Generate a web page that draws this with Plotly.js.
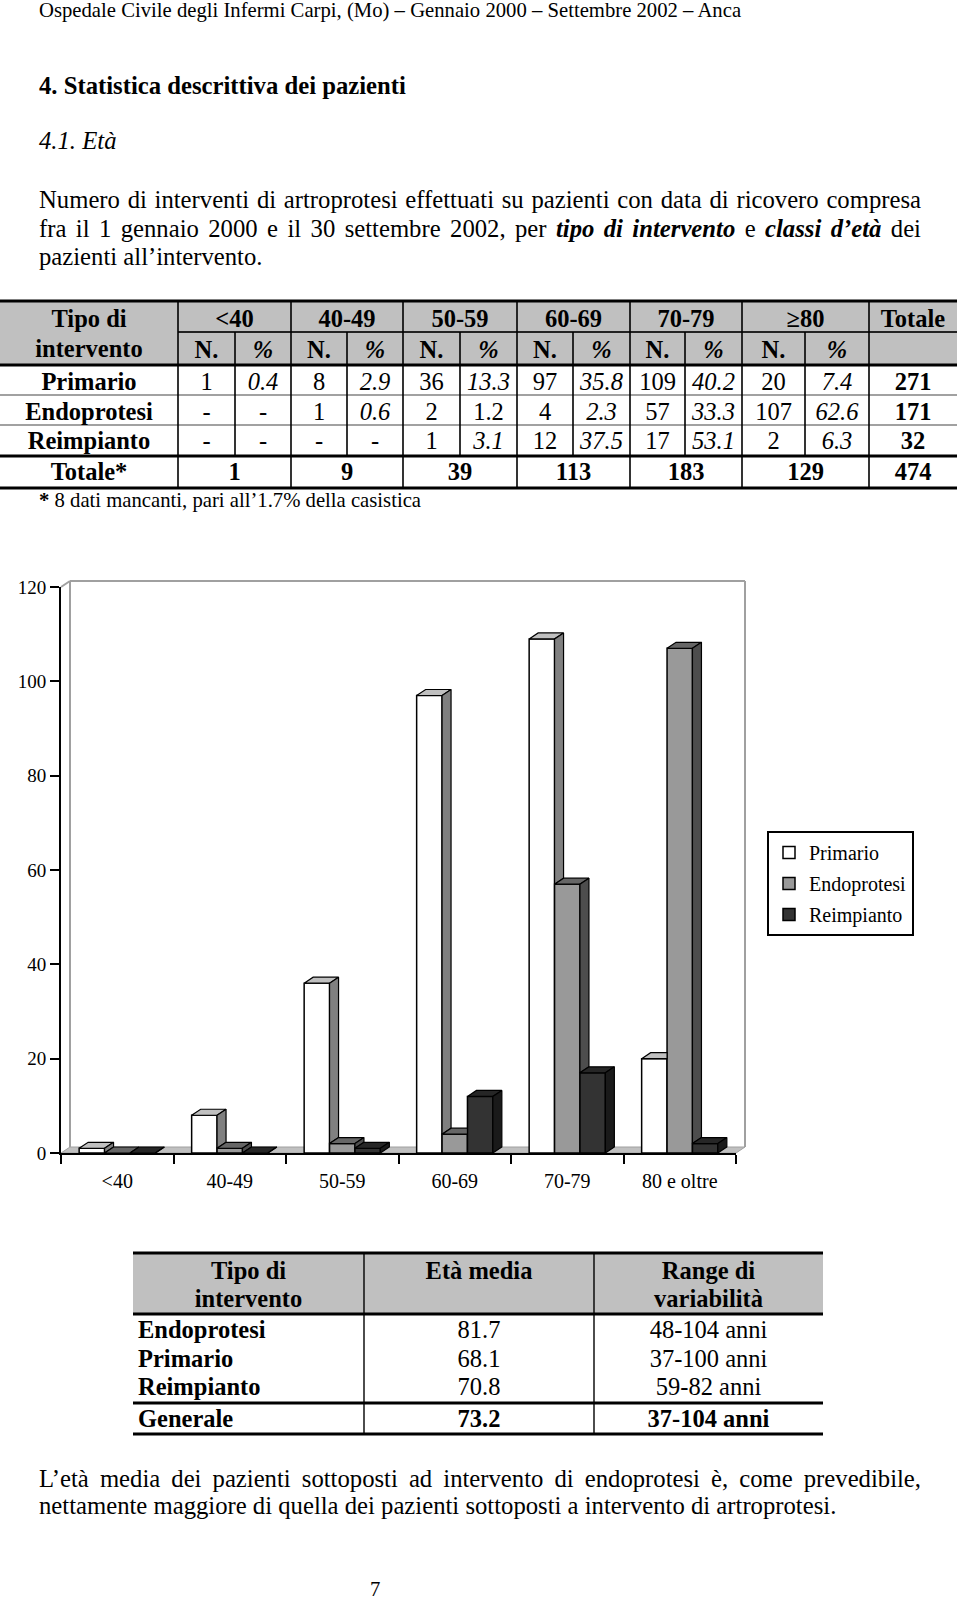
<!DOCTYPE html>
<html><head><meta charset="utf-8">
<script src="https://cdn.plot.ly/plotly-3.0.1.min.js"></script>
<style>
html,body{margin:0;padding:0;background:#fff;}
#page{position:relative;width:960px;height:1601px;overflow:hidden;background:#fff;}
#doc{position:absolute;left:0;top:0;}
#chart{position:absolute;left:0;top:560px;width:960px;height:660px;}
</style></head><body>
<div id="page"><svg id="doc" width="960" height="1601" xmlns="http://www.w3.org/2000/svg"></svg><div id="chart"></div></div>
<script>
// ---------------- DATA ----------------
const ageClasses = ['<40','40-49','50-59','60-69','70-79','≥80'];
const chartCategories = ['<40','40-49','50-59','60-69','70-79','80 e oltre'];
const tipiIntervento = ['Primario','Endoprotesi','Reimpianto'];
const primarioN = [1,8,36,97,109,20];
const primarioPct = [0.4,2.9,13.3,35.8,40.2,7.4];
const endoprotesiN = [null,1,2,4,57,107];
const endoprotesiPct = [null,0.6,1.2,2.3,33.3,62.6];
const reimpiantoN = [null,null,1,12,17,2];
const reimpiantoPct = [null,null,3.1,37.5,53.1,6.3];
const totaliTipo = [271,171,32];
const totaliClasse = [1,9,39,113,183,129];
const totaleGenerale = 474;
const yTicks = [0,20,40,60,80,100,120];
const tipiEta = ['Endoprotesi','Primario','Reimpianto'];
const etaMedia = [81.7,68.1,70.8];
const rangeEta = ['48-104 anni','37-100 anni','59-82 anni'];
const etaMediaGenerale = 73.2;
const rangeGenerale = '37-104 anni';

// ---------------- DOCUMENT (SVG text + tables) ----------------
const NS = 'http://www.w3.org/2000/svg';
const svg = document.getElementById('doc');
const FONT = 'Liberation Serif, Times New Roman, serif';
function el(tag, attrs, parent){
  const e = document.createElementNS(NS, tag);
  for (const k in attrs) e.setAttribute(k, attrs[k]);
  (parent || svg).appendChild(e);
  return e;
}
// parts: array of [string, style] where style may contain 'b' and/or 'i'
function txt(x, y, parts, o){
  o = o || {};
  if (typeof parts === 'string') parts = [[parts, o.style || '']];
  const t = el('text', {x:x, y:y, 'font-family':FONT, 'font-size':o.fs || 24.7,
    'text-anchor':o.anchor || 'start', fill:'#000'});
  parts.forEach(p => {
    const s = el('tspan', {}, t);
    if (p[1].indexOf('b') >= 0) s.setAttribute('font-weight','bold');
    if (p[1].indexOf('i') >= 0) s.setAttribute('font-style','italic');
    s.textContent = p[0];
  });
  if (o.justify) {
    const n = t.getComputedTextLength();
    const spaces = (t.textContent.match(/ /g) || []).length;
    if (spaces) t.setAttribute('word-spacing', ((o.justify - n) / spaces).toFixed(3));
  }
  return t;
}
function line(x1,y1,x2,y2,w,c){ el('line',{x1:x1,y1:y1,x2:x2,y2:y2,stroke:c||'#000','stroke-width':w}); }

// header & text
txt(39, 16.7, 'Ospedale Civile degli Infermi Carpi, (Mo) – Gennaio 2000 – Settembre 2002 – Anca', {fs:20.7});
txt(39, 94.3, '4. Statistica descrittiva dei pazienti', {style:'b'});
txt(39, 149.3, '4.1. Età', {style:'i'});
txt(39, 208.3, 'Numero di interventi di artroprotesi effettuati su pazienti con data di ricovero compresa', {justify:882});
txt(39, 236.7, [['fra il 1 gennaio 2000 e il 30 settembre 2002, per ',''],['tipo di intervento','bi'],[' e ',''],['classi d’età','bi'],[' dei','']], {justify:882});
txt(39, 265, 'pazienti all’intervento.');

// ---- Table 1 ----
const T1 = {cols:[0,178,235,291,347,403,460,517,573,630,685,742,805,869,957],
  top:301, mid:332, head:365, seps:[395,425], tot:456, bottom:488};
const FS_T = 24.5;
el('rect',{x:T1.cols[0], y:T1.top, width:T1.cols[14]-T1.cols[0], height:T1.head-T1.top, fill:'#c0c0c0'});
T1.seps.forEach(y => line(0, y, 957, y, 1.2, '#444'));
line(178, T1.mid, 957, T1.mid, 2.2, '#222');
[1,3,5,7,9,11,13].forEach(i => line(T1.cols[i], T1.top, T1.cols[i], T1.bottom, 1.6));
[2,4,6,8,10,12].forEach(i => line(T1.cols[i], T1.mid, T1.cols[i], T1.tot, 1.6));
[T1.top, T1.head, T1.tot, T1.bottom].forEach(y => line(0, y, 957, y, 3.2));
const c0 = (T1.cols[0]+T1.cols[1])/2, cTot = (T1.cols[13]+T1.cols[14])/2;
txt(c0, 326.7, 'Tipo di', {fs:FS_T, anchor:'middle', style:'b'});
txt(c0, 356.7, 'intervento', {fs:FS_T, anchor:'middle', style:'b'});
ageClasses.forEach((a, k) => {
  const xa = T1.cols[1+2*k], xb = T1.cols[2+2*k], xc = T1.cols[3+2*k];
  txt((xa+xc)/2, 326.7, a, {fs:FS_T, anchor:'middle', style:'b'});
  txt((xa+xb)/2, 358.3, 'N.', {fs:FS_T, anchor:'middle', style:'b'});
  txt((xb+xc)/2, 358.3, '%', {fs:FS_T, anchor:'middle', style:'bi'});
});
txt(cTot, 326.7, 'Totale', {fs:FS_T, anchor:'middle', style:'b'});
const tabN = [primarioN, endoprotesiN, reimpiantoN];
const tabPct = [primarioPct, endoprotesiPct, reimpiantoPct];
const rowBase = [390, 420, 449];
tipiIntervento.forEach((tp, r) => {
  txt(c0, rowBase[r], tp, {fs:FS_T, anchor:'middle', style:'b'});
  ageClasses.forEach((a, k) => {
    const xa = T1.cols[1+2*k], xb = T1.cols[2+2*k], xc = T1.cols[3+2*k];
    const n = tabN[r][k], p = tabPct[r][k];
    txt((xa+xb)/2, rowBase[r], n == null ? '-' : String(n), {fs:FS_T, anchor:'middle'});
    const upright = (r === 1 && k === 2);
    txt((xb+xc)/2, rowBase[r], p == null ? '-' : p.toFixed(1), {fs:FS_T, anchor:'middle', style: (p == null || upright) ? '' : 'i'});
  });
  txt(cTot, rowBase[r], String(totaliTipo[r]), {fs:FS_T, anchor:'middle', style:'b'});
});
txt(c0, 480, 'Totale*', {fs:FS_T, anchor:'middle', style:'b'});
totaliClasse.forEach((v, k) => {
  txt((T1.cols[1+2*k]+T1.cols[3+2*k])/2, 480, String(v), {fs:FS_T, anchor:'middle', style:'b'});
});
txt(cTot, 480, String(totaleGenerale), {fs:FS_T, anchor:'middle', style:'b'});
txt(39, 507, [['*','b'],[' 8 dati mancanti, pari all’1.7% della casistica','']], {fs:20.7});

// ---- Table 2 ----
const T2 = {cols:[133,364,594,823], top:1253, head:1314, gen:1403, bottom:1434};
el('rect',{x:T2.cols[0], y:T2.top, width:T2.cols[3]-T2.cols[0], height:T2.head-T2.top, fill:'#c0c0c0'});
[1,2].forEach(i => line(T2.cols[i], T2.top, T2.cols[i], T2.bottom, 1.4));
[T2.top, T2.head, T2.gen, T2.bottom].forEach(y => line(T2.cols[0], y, T2.cols[3], y, 3.2));
const m0 = (T2.cols[0]+T2.cols[1])/2, m1 = (T2.cols[1]+T2.cols[2])/2, m2 = (T2.cols[2]+T2.cols[3])/2;
txt(m0, 1279.3, 'Tipo di', {fs:FS_T, anchor:'middle', style:'b'});
txt(m0, 1306.7, 'intervento', {fs:FS_T, anchor:'middle', style:'b'});
txt(m1, 1279.3, 'Età media', {fs:FS_T, anchor:'middle', style:'b'});
txt(m2, 1279.3, 'Range di', {fs:FS_T, anchor:'middle', style:'b'});
txt(m2, 1306.7, 'variabilità', {fs:FS_T, anchor:'middle', style:'b'});
const rb2 = [1338.3, 1366.7, 1395];
tipiEta.forEach((tp, r) => {
  txt(138, rb2[r], tp, {fs:FS_T, style:'b'});
  txt(m1, rb2[r], etaMedia[r].toFixed(1), {fs:FS_T, anchor:'middle'});
  txt(m2, rb2[r], rangeEta[r], {fs:FS_T, anchor:'middle'});
});
txt(138, 1427.3, 'Generale', {fs:FS_T, style:'b'});
txt(m1, 1427.3, etaMediaGenerale.toFixed(1), {fs:FS_T, anchor:'middle', style:'b'});
txt(m2, 1427.3, rangeGenerale, {fs:FS_T, anchor:'middle', style:'b'});

// closing text
txt(39, 1486.5, 'L’età media dei pazienti sottoposti ad intervento di endoprotesi è, come prevedibile,', {justify:882});
txt(39, 1514.2, 'nettamente maggiore di quella dei pazienti sottoposti a intervento di artroprotesi.');
txt(370, 1596, '7', {fs:20.7});

// ---------------- CHART ----------------
const W = 960, H = 660;
const margin = {l:61, r:224, t:27, b:67};
const plotW = W - margin.l - margin.r, plotH = H - margin.t - margin.b;
const xRange = [-0.5, chartCategories.length - 0.5];
const yRange = [0, 120];
const depthPx = {x:9, y:6};
const DXu = depthPx.x * (xRange[1]-xRange[0]) / plotW;
const DYu = depthPx.y * (yRange[1]-yRange[0]) / plotH;
const BW = 0.2258;
const idx = chartCategories.map((_, i) => i);
const series = [
  {name:'Primario', vals:primarioN.map(v => v || 0), front:'#ffffff', top:'#c0c0c0', side:'#808080'},
  {name:'Endoprotesi', vals:endoprotesiN.map(v => v || 0), front:'#999999', top:'#666666', side:'#4d4d4d'},
  {name:'Reimpianto', vals:reimpiantoN.map(v => v || 0), front:'#333333', top:'#262626', side:'#1a1a1a'}
];
const traces = [];
series.forEach((s, i) => {
  traces.push({type:'bar', name:s.name, legendgroup:s.name, x:idx, y:s.vals,
    width:BW, offset:(i - 1.5) * BW,
    marker:{color:s.front, line:{color:'#000', width:1.5}}});
});
series.forEach((s, i) => {
  const tx = [], ty = [], sx = [], sy = [];
  const push = (X, Y, pts) => { pts.forEach(p => { X.push(p[0]); Y.push(p[1]); }); X.push(pts[0][0]); Y.push(pts[0][1]); X.push(null); Y.push(null); };
  idx.forEach(c => {
    const v = s.vals[c];
    const next = i < series.length - 1 ? series[i+1].vals[c] : -Infinity;
    const x0 = c + (i - 1.5) * BW, x1 = x0 + BW;
    if (next > v) push(tx, ty, [[x0,v],[x1,v],[x1,v+DYu],[x0+DXu,v+DYu]]);
    else push(tx, ty, [[x0,v],[x1,v],[x1+DXu,v+DYu],[x0+DXu,v+DYu]]);
    if (next < v) {
      const b = Math.max(next, 0);
      push(sx, sy, [[x1,b],[x1,v],[x1+DXu,v+DYu],[x1+DXu,b+DYu]]);
    }
  });
  traces.push({type:'scatter', mode:'lines', x:tx, y:ty, fill:'toself', fillcolor:s.top,
    line:{color:'#000', width:1.2}, showlegend:false, hoverinfo:'skip'});
  traces.push({type:'scatter', mode:'lines', x:sx, y:sy, fill:'toself', fillcolor:s.side,
    line:{color:'#000', width:1.2}, showlegend:false, hoverinfo:'skip'});
});
// 3D frame (floor + back wall) in axis-domain units
const dxd = depthPx.x / plotW, dyd = depthPx.y / plotH;
const wallLine = {color:'#a0a0a0', width:2};
const dom = {xref:'x domain', yref:'y domain', layer:'below'};
const shapes = [
  Object.assign({type:'path', path:`M0,0 L1,0 L${1+dxd},${dyd} L${dxd},${dyd} Z`, fillcolor:'#c0c0c0', line:{color:'#a0a0a0', width:1}}, dom),
  Object.assign({type:'line', x0:dxd, y0:dyd, x1:dxd, y1:1+dyd, line:wallLine}, dom),
  Object.assign({type:'line', x0:dxd, y0:1+dyd, x1:1+dxd, y1:1+dyd, line:wallLine}, dom),
  Object.assign({type:'line', x0:1+dxd, y0:dyd, x1:1+dxd, y1:1+dyd, line:wallLine}, dom),
  Object.assign({type:'line', x0:0, y0:1, x1:dxd, y1:1+dyd, line:wallLine}, dom)
];
const boundaries = chartCategories.map((_, i) => i - 0.5).concat([chartCategories.length - 0.5]);
const layout = {
  width:W, height:H, margin:Object.assign({pad:0}, margin),
  paper_bgcolor:'rgba(0,0,0,0)', plot_bgcolor:'rgba(0,0,0,0)',
  font:{family:FONT, size:20, color:'#000'},
  barmode:'overlay', hovermode:false, showlegend:true,
  legend:{x:(767-61)/plotW, xanchor:'left', y:1-(271-27)/plotH, yanchor:'top',
    bordercolor:'#000', borderwidth:2, bgcolor:'#fff', font:{family:FONT, size:20, color:'#000'},
    tracegroupgap:2, traceorder:'grouped'},
  xaxis:{range:xRange, showgrid:false, zeroline:false, showline:true, linecolor:'#000', linewidth:2,
    tickmode:'array', tickvals:idx, ticktext:chartCategories, ticks:'outside', ticklen:9,
    tickcolor:'rgba(0,0,0,0)', ticklabelstandoff:0,
    minor:{tickmode:'array', tickvals:boundaries, ticks:'outside', ticklen:9, tickwidth:2, tickcolor:'#000', showgrid:false},
    fixedrange:true},
  yaxis:{range:yRange, tickmode:'array', tickvals:yTicks, ticks:'outside', ticklen:9, tickwidth:2, tickcolor:'#000',
    tickfont:{family:FONT, size:19, color:'#000'},
    showline:true, linecolor:'#000', linewidth:2, showgrid:false, zeroline:false, fixedrange:true},
  shapes:shapes
};
Plotly.newPlot('chart', traces, layout, {staticPlot:true, displayModeBar:false});
</script>
</body></html>
